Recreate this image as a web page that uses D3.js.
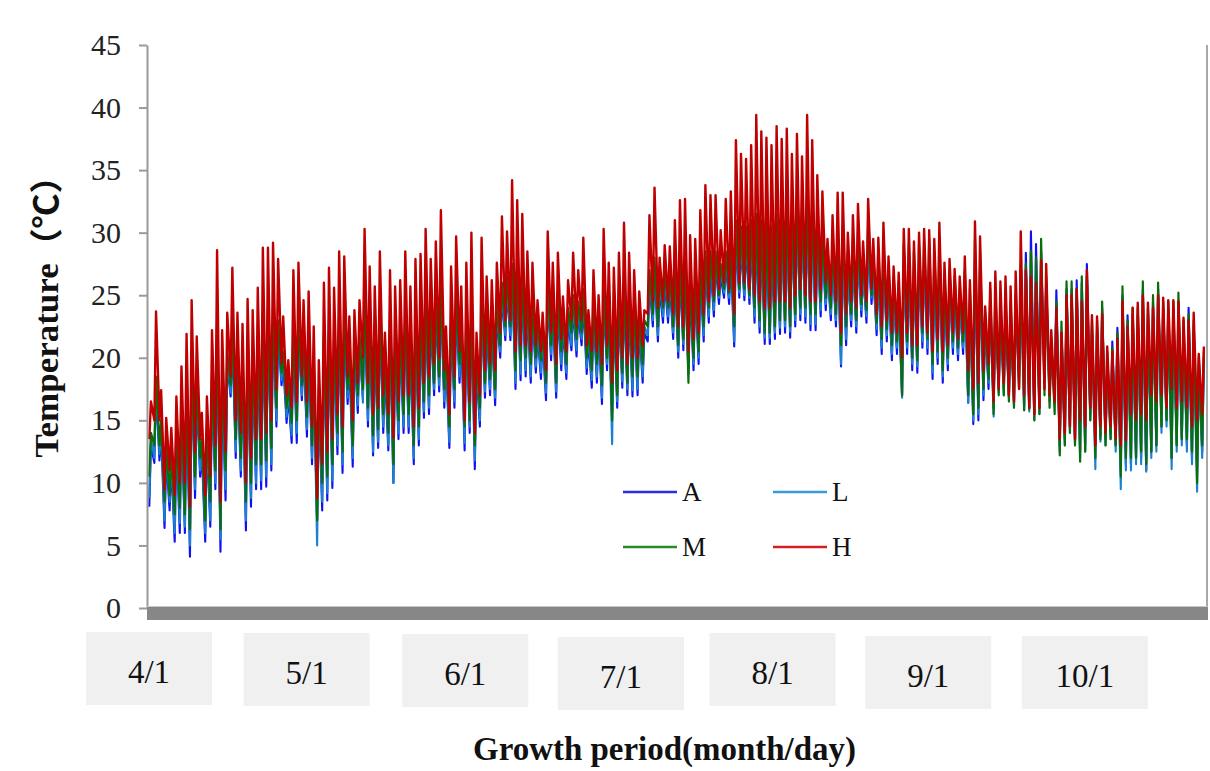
<!DOCTYPE html>
<html><head><meta charset="utf-8">
<script src="https://cdn.jsdelivr.net/npm/d3@7"></script>
<style>body{margin:0;background:#fff}svg{display:block}</style>
</head><body>
<svg id="chart" width="1210" height="771"></svg>
<script>
// ---------------- DATA ----------------
const startDate = "2019-04-01";
const tickDates = ["2019-04-01","2019-05-01","2019-06-01","2019-07-01","2019-08-01","2019-09-01","2019-10-01"];
const tickLabels = ["4/1","5/1","6/1","7/1","8/1","9/1","10/1"];
const yTicks = [0,5,10,15,20,25,30,35,40,45];
const seriesNames = ["A","L","M","H"];

// daily maximum / minimum temperature (°C), 4/1 .. 10/25
const hMax = [16.5,23.7,17.4,15.2,14.4,16.9,19.3,21.9,24.6,21.7,15.6,16.9,22.2,28.6,22.2,23.6,27.2,23.6,22.7,24.7,23.8,25.6,28.8,28.8,29.2,27.9,23.3,19.8,27.0,27.6,24.6,25.3,22.5,19.8,26.0,27.2,25.6,28.5,28.1,23.3,23.8,24.6,
30.3,27.3,25.7,28.5,22.0,27.0,25.7,26.2,28.5,25.7,27.9,28.3,30.3,27.9,29.3,31.8,22.5,27.3,29.7,25.7,27.6,30.0,22.0,29.6,26.5,26.2,27.6,31.3,30.1,34.2,32.6,31.5,28.5,27.6,24.6,23.6,30.1,27.6,28.4,24.9,26.2,
28.4,27.0,29.6,23.8,27.0,25.0,30.3,27.6,27.2,28.4,30.8,28.4,27.0,25.3,23.8,31.4,33.6,28.0,29.0,28.9,31.0,32.6,32.7,29.8,29.5,31.8,33.8,33.0,33.0,30.2,32.7,33.3,37.4,36.3,35.9,37.0,39.4,38.1,37.6,37.0,38.5,
37.5,38.3,36.3,37.9,36.1,39.4,37.4,34.6,33.3,29.5,31.4,33.2,33.2,30.0,31.4,32.3,29.3,32.7,29.5,29.6,30.8,28.1,27.3,26.8,30.3,30.3,29.3,30.0,30.3,30.2,29.5,30.8,27.6,27.9,27.1,26.5,28.1,26.2,30.9,29.7,24.1,26.0,
26.9,26.1,26.5,25.7,26.9,30.1,27.0,26.5,26.0,27.8,27.5,22.2,24.0,22.0,25.0,25.0,25.5,24.5,27.0,23.4,23.3,23.5,20.9,20.5,21.5,24.5,22.5,24.0,24.4,25.0,24.4,24.0,25.0,24.8,24.6,24.6,24.5,23.2,23.0,23.6,20.3,20.9];
const hMin = [13.5,15.0,15.0,9.5,11.0,9.0,10.0,10.0,8.1,12.5,13.5,9.0,10.5,13.0,8.5,12.5,18.5,15.0,14.0,10.0,12.0,13.5,13.5,14.0,15.0,17.5,19.5,17.0,16.0,16.5,18.5,16.5,14.5,8.8,11.5,12.5,13.5,15.5,14.5,18.5,15.0,18.0,
20.0,18.0,15.5,16.0,17.0,15.5,13.6,16.5,17.0,17.0,14.5,16.0,18.0,18.5,19.5,20.0,19.0,15.5,18.5,20.5,15.0,16.5,14.0,17.0,19.0,19.5,19.0,22.0,23.0,23.0,20.5,21.0,21.0,20.5,21.0,20.5,19.0,22.0,19.5,21.5,20.5,
23.0,22.5,23.0,21.0,20.5,20.5,19.5,21.0,18.0,19.0,20.0,19.5,20.0,20.0,21.0,23.5,24.5,24.0,24.5,24.5,23.5,22.5,22.5,20.5,21.5,22.0,23.5,24.5,25.0,25.5,26.0,25.5,23.5,26.0,26.0,25.5,25.0,24.5,24.0,24.0,24.5,
24.5,24.5,24.0,25.0,25.5,25.0,24.5,24.5,25.5,26.0,25.0,24.5,22.0,23.5,24.5,24.0,25.0,24.5,25.5,23.5,22.5,23.0,22.0,22.0,20.0,22.0,21.0,21.0,22.5,22.0,20.5,21.5,20.5,21.0,22.0,21.5,22.0,19.0,17.5,18.0,19.0,19.5,
16.5,17.5,18.0,17.0,16.5,17.5,17.0,16.0,15.5,16.0,17.5,17.0,16.5,13.5,14.0,14.5,13.5,15.0,14.5,16.0,13.0,14.5,14.0,14.5,13.5,13.0,13.4,15.5,15.0,15.5,15.0,17.0,16.5,17.0,16.0,17.5,16.0,16.5,16.0,14.5,15.0,15.5];
const mMax = [14.0,18.5,15.0,13.0,12.5,14.5,16.0,18.0,20.0,18.0,13.5,14.5,18.5,23.0,19.0,20.5,22.5,20.0,19.5,21.0,20.5,21.5,23.5,24.0,24.0,23.0,20.5,18.0,22.5,23.0,21.5,22.0,19.5,17.5,22.0,23.0,22.0,24.0,23.5,21.0,21.5,22.0,
25.0,23.5,22.0,24.0,20.0,23.0,22.0,22.5,24.0,22.0,23.5,24.0,25.0,24.0,25.0,26.0,21.0,23.5,25.0,23.0,24.0,25.0,20.0,25.0,23.5,23.5,24.5,26.0,26.5,27.5,27.0,26.5,25.0,24.5,23.0,22.5,26.0,25.0,25.0,23.5,24.0,
25.0,24.5,25.5,22.5,24.5,23.5,25.5,24.5,24.5,25.0,26.0,25.0,24.5,23.5,23.0,27.0,28.0,26.5,27.0,27.0,27.5,28.0,28.0,26.5,26.5,27.5,28.5,28.5,28.5,27.5,28.5,29.0,31.0,30.5,30.5,31.0,31.5,31.0,31.0,30.5,31.5,
32.0,32.5,31.5,33.0,32.0,33.0,32.5,31.0,30.0,28.0,29.5,30.5,30.5,28.5,29.5,30.0,28.0,31.0,28.5,28.5,29.5,27.0,26.5,26.0,29.0,29.0,28.5,29.0,29.5,29.5,28.5,29.5,26.5,27.0,26.5,25.5,27.0,25.5,29.5,28.5,23.5,25.5,
25.5,25.0,25.0,24.5,25.0,27.5,27.5,28.5,28.0,29.5,26.5,21.5,24.5,22.9,26.1,26.1,25.5,26.5,26.5,23.0,23.0,24.5,20.5,20.8,22.0,25.7,23.0,24.0,24.0,26.1,24.0,25.0,26.0,24.5,24.5,24.5,25.2,23.0,23.5,23.0,20.0,20.5];
const mMin = [10.5,13.0,13.0,8.5,9.0,7.5,8.0,7.5,6.3,10.5,12.0,7.0,8.5,11.0,6.3,11.0,17.8,13.5,12.0,8.5,10.0,11.5,11.5,11.8,12.8,16.0,18.8,16.0,14.8,15.0,17.8,15.3,13.0,7.0,10.0,10.5,11.5,14.0,12.5,17.5,13.0,17.0,
17.5,16.0,13.8,14.3,15.5,14.0,11.5,15.0,15.5,15.5,13.0,14.5,16.5,17.0,18.0,18.5,17.5,14.5,17.5,19.5,14.5,15.0,13.0,16.0,18.0,18.3,17.5,21.0,22.5,22.5,19.0,19.8,20.0,19.5,20.0,19.8,18.0,21.0,18.0,20.5,19.5,
22.0,21.5,22.0,20.0,19.0,19.5,17.8,20.0,15.0,17.0,18.8,18.0,18.5,18.5,19.5,22.5,23.5,22.5,24.0,24.0,22.5,21.0,21.5,18.0,20.0,20.5,22.5,24.0,24.5,25.0,25.5,25.2,22.5,25.5,25.5,25.0,24.0,23.0,22.0,22.0,22.5,
23.0,23.0,22.5,23.5,24.0,24.0,23.5,23.5,24.5,24.8,24.0,23.5,21.0,22.5,23.5,23.0,24.3,23.8,25.0,22.8,21.5,22.3,21.0,21.3,17.0,21.3,20.0,19.8,22.0,21.5,19.5,20.5,19.0,20.0,21.3,20.8,21.3,17.0,15.5,16.0,17.5,18.3,
15.5,17.0,17.0,16.5,16.0,17.5,15.8,15.9,15.0,15.5,17.0,16.0,15.5,12.2,13.0,14.0,13.0,11.7,12.5,15.0,12.0,13.5,13.0,13.5,13.0,10.5,12.0,12.0,12.0,12.5,11.5,12.5,13.0,14.5,15.0,12.0,13.0,13.5,13.5,12.5,10.0,13.0];
const aMax = [13.0,17.5,14.0,12.0,11.5,13.5,15.0,17.0,19.0,17.0,12.5,13.5,17.5,22.0,18.0,19.5,21.5,19.0,18.5,20.0,19.5,20.5,22.5,23.0,23.0,22.0,19.5,17.0,21.5,22.0,20.5,21.0,18.5,16.5,21.0,22.0,21.0,23.0,22.5,20.0,20.5,21.0,
24.0,22.5,21.0,23.0,19.0,22.0,21.0,21.5,23.0,21.0,22.5,23.0,24.0,23.0,24.0,25.0,20.0,22.5,24.0,22.0,23.0,24.0,19.0,24.0,22.5,22.5,23.5,25.0,25.5,26.5,26.0,25.5,24.0,23.5,22.0,21.5,25.0,24.0,24.0,22.5,23.0,
24.0,23.5,24.5,21.5,23.5,22.5,24.5,23.5,23.5,24.0,25.0,24.0,23.5,22.5,22.0,26.0,27.0,25.5,26.0,26.0,26.5,27.0,27.0,25.5,25.5,26.5,27.5,27.5,27.5,26.5,27.5,28.0,29.5,29.0,29.0,29.5,30.0,29.5,29.5,29.0,30.0,
31.0,31.0,30.5,31.5,31.0,31.5,31.0,29.5,29.0,27.0,28.0,29.0,29.0,27.0,28.0,28.5,27.0,29.0,27.0,27.0,28.0,26.0,25.0,25.0,27.5,27.5,27.0,27.5,28.0,28.0,27.0,28.0,25.5,26.0,25.5,24.5,26.0,24.5,28.0,27.5,23.0,24.5,
24.5,24.0,24.0,23.5,25.0,27.0,28.4,30.1,29.1,28.5,26.0,21.0,25.4,22.0,25.5,25.5,26.2,26.0,27.5,22.5,22.5,24.0,20.0,21.3,22.4,25.0,23.4,23.5,23.5,25.5,23.5,24.5,25.5,24.0,24.0,24.0,24.5,22.5,24.0,22.5,19.5,20.0];
const aMin = [8.1,11.6,11.8,6.4,7.8,5.3,6.0,6.0,4.1,8.8,10.5,5.3,6.5,9.5,4.5,8.6,16.9,12.0,10.5,6.2,8.1,9.5,9.5,9.7,11.0,14.5,17.8,14.8,13.2,13.2,16.6,13.7,11.5,7.0,7.8,8.6,9.6,12.3,10.8,16.3,11.3,15.6,
16.8,14.5,12.2,12.8,14.0,12.6,10.0,13.5,14.0,14.0,11.5,13.0,15.2,15.5,17.0,17.3,16.0,12.8,16.0,18.0,12.6,14.0,11.1,14.5,16.8,17.0,16.2,20.0,21.4,21.4,17.5,18.2,18.5,18.0,18.8,18.3,16.6,19.8,16.8,19.0,18.3,
20.6,20.1,21.0,18.7,17.6,18.0,16.3,19.0,15.5,16.0,17.6,17.0,16.9,17.0,18.0,21.3,22.5,21.3,22.8,22.8,21.5,20.0,20.6,18.7,19.0,19.5,21.3,22.8,23.3,24.3,24.8,24.3,20.9,24.8,24.6,24.3,22.8,22.0,21.1,21.1,21.5,
21.9,22.0,21.6,22.5,23.0,22.8,22.2,22.2,23.3,23.8,23.0,22.5,19.3,21.0,22.5,22.0,23.3,22.8,24.3,21.8,20.3,21.3,19.8,20.3,17.0,20.3,19.0,18.8,20.8,20.3,18.3,19.5,18.0,19.0,20.3,19.8,20.3,16.4,14.7,15.0,16.6,17.5,
16.0,17.5,17.5,17.0,16.6,18.5,16.2,16.0,15.5,16.0,18.5,17.0,16.8,13.0,13.5,14.5,13.5,12.5,13.0,15.5,13.0,13.8,13.5,14.0,13.0,11.0,11.5,11.5,12.0,12.0,11.0,12.5,13.0,14.5,15.0,12.0,13.0,13.5,13.0,12.0,11.0,12.5];
const lMax = [13.5,18.0,14.5,12.5,12.0,14.0,15.5,17.5,19.5,17.5,13.0,14.0,18.0,22.5,18.5,20.0,22.0,19.5,19.0,20.5,20.0,21.0,23.0,23.5,23.5,22.5,20.0,17.5,22.0,22.5,21.0,21.5,19.0,17.0,21.5,22.5,21.5,23.5,23.0,20.5,21.0,21.5,
24.5,23.0,21.5,23.5,19.5,22.5,21.5,22.0,23.5,21.5,23.0,23.5,24.5,23.5,24.5,25.5,20.5,23.0,24.5,22.5,23.5,24.5,19.5,24.5,23.0,23.0,24.0,25.5,26.0,27.0,26.5,26.0,24.5,24.0,22.5,22.0,25.5,24.5,24.5,23.0,23.5,
24.5,24.0,25.0,22.0,24.0,23.0,25.0,24.0,24.0,24.5,25.5,24.5,24.0,23.0,22.5,26.5,27.5,26.0,26.5,26.5,27.0,27.5,27.5,26.0,26.0,27.0,28.0,28.0,28.0,27.0,28.0,28.5,30.0,29.5,29.5,30.0,30.5,30.0,30.0,29.5,30.5,
30.5,30.5,30.0,31.0,30.5,31.0,30.5,29.0,28.5,26.5,27.5,28.5,28.5,26.5,27.5,28.0,26.5,28.5,26.5,26.5,27.5,25.5,24.5,24.5,27.0,27.0,26.5,27.0,27.5,27.5,26.5,27.5,25.0,25.5,25.0,24.0,25.5,24.0,27.5,27.0,22.5,24.0,
24.0,23.5,23.5,23.0,24.0,26.0,27.0,28.5,28.0,27.5,25.0,20.5,24.5,21.5,25.0,25.0,25.5,25.5,26.5,22.0,22.0,23.5,19.5,20.5,21.5,24.5,22.5,23.0,23.0,25.0,23.0,24.0,25.0,23.5,23.5,23.5,24.0,22.0,23.0,22.0,19.0,19.5];
const lMin = [8.8,12.0,12.3,7.0,8.5,6.0,6.8,6.5,5.0,9.5,11.0,6.0,7.0,10.0,5.5,9.5,17.2,12.5,11.0,7.0,8.8,10.0,10.2,10.5,11.5,15.0,18.2,15.3,13.8,14.0,17.0,14.3,12.0,5.0,8.5,9.2,10.2,13.0,11.5,16.8,12.0,16.2,
16.4,15.0,12.5,13.3,14.5,13.0,10.0,14.0,14.5,14.5,12.0,13.5,15.7,16.0,17.5,17.8,16.5,13.3,16.5,18.5,13.2,14.5,11.8,15.0,17.3,17.5,16.8,20.5,21.8,21.8,18.0,18.7,19.0,18.5,19.3,18.8,17.2,20.3,17.3,19.5,18.8,
21.0,20.6,21.5,19.2,18.2,18.5,16.8,19.5,13.1,16.5,18.1,17.5,17.4,17.5,18.5,21.8,23.0,21.8,23.3,23.3,22.0,20.5,21.1,19.2,19.5,20.0,21.8,23.3,23.8,24.8,25.2,24.8,21.3,25.2,25.0,24.8,23.3,22.5,21.6,21.6,22.0,
22.4,22.5,22.1,23.0,23.5,23.3,22.7,22.7,23.8,24.3,23.5,23.0,19.5,21.5,23.0,22.5,23.8,23.3,24.8,22.3,20.8,21.8,20.3,20.8,16.8,20.8,19.5,19.3,21.3,20.8,18.8,20.0,18.5,19.5,20.8,20.3,20.8,16.4,15.0,15.5,17.0,18.0,
15.3,17.2,17.0,16.8,16.2,18.0,15.8,15.7,15.0,15.5,18.0,16.5,16.3,12.5,13.0,14.0,13.0,12.0,12.5,15.0,11.1,13.3,13.0,13.5,12.5,9.5,11.0,11.0,11.5,11.5,10.9,12.0,12.5,14.0,14.5,11.1,12.5,13.0,12.5,11.5,9.3,12.0];

// ---------------- LAYOUT / STYLE ----------------
const colors = {A:"#1010f5", L:"#1a80d0", M:"#0a6e0a", H:"#c00000"};
const strokeW = {A:2.1, L:2.1, M:2.2, H:2.4};
const legendColors = {A:"#2a2af0", L:"#3a9ad8", M:"#2a8a2a", H:"#d02020"};
const labelNudge = [1,6,7,10,4,2,6];
const boxTop = [632,633,634,637,633,636,636];
const serif = "'Liberation Serif','Times New Roman',serif";

const svg = d3.select("#chart");
const parse = d3.timeParse("%Y-%m-%d");
const t0 = parse(startDate);
const nDays = hMax.length;

const x = d3.scaleLinear().domain([0, nDays]).range([148, 1206]);
const y = d3.scaleLinear().domain([0, 45]).range([608, 45]);

svg.append("rect").attr("width",1210).attr("height",771).attr("fill","#fff");

svg.append("defs").append("clipPath").attr("id","clip")
  .append("rect").attr("x",148).attr("y",40).attr("width",1059).attr("height",568);

// series
const seriesData = {
  A: {max:aMax, min:aMin},
  L: {max:lMax, min:lMin},
  M: {max:mMax, min:mMin},
  H: {max:hMax, min:hMin}
};
const line = d3.line().x(d => x(d.t)).y(d => y(d.v));
const gData = svg.append("g").attr("clip-path","url(#clip)");
seriesNames.forEach(name => {
  const s = seriesData[name];
  const pts = [];
  for (let i = 0; i < s.max.length; i++) {
    pts.push({t: i + 0.25, v: s.min[i]});
    pts.push({t: i + 0.58, v: s.max[i]});
  }
  gData.append("path").datum(pts)
    .attr("d", line)
    .attr("fill","none")
    .attr("stroke", colors[name])
    .attr("stroke-width", strokeW[name])
    .attr("stroke-linejoin","round");
});

// y axis
const yAxis = d3.axisLeft(y).tickValues(yTicks).tickSize(8).tickSizeOuter(0).tickPadding(18);
const gy = svg.append("g").attr("transform","translate(147,0)").call(yAxis);
gy.select(".domain").attr("stroke","#9a9a9a").attr("stroke-width",2);
gy.selectAll(".tick line").attr("stroke","#9a9a9a").attr("stroke-width",2);
gy.selectAll(".tick text").attr("font-family",serif).attr("font-size",30).attr("fill","#222");

// right border
svg.append("line").attr("x1",1207).attr("x2",1207).attr("y1",45).attr("y2",620)
  .attr("stroke","#a8a8a8").attr("stroke-width",2);

// bottom band (category axis)
svg.append("rect").attr("x",147).attr("y",607).attr("width",1061).attr("height",13).attr("fill","#878787");
svg.append("line").attr("x1",147).attr("x2",1208).attr("y1",606.5).attr("y2",606.5).attr("stroke","#c8c8c8").attr("stroke-width",1);

// x tick label boxes
const tickDays = tickDates.map(d => d3.timeDay.count(t0, parse(d)));
tickLabels.forEach((lab, i) => {
  const cx = x(tickDays[i]) + labelNudge[i];
  svg.append("rect").attr("x", cx - 63).attr("y", boxTop[i]).attr("width",126).attr("height",73).attr("fill","#f0f0f0");
  svg.append("text").attr("x", cx).attr("y", boxTop[i] + 51)
    .attr("text-anchor","middle").attr("font-family",serif).attr("font-size",33).attr("fill","#111")
    .text(lab);
});

// axis titles
svg.append("text").attr("x",473).attr("y",760)
  .attr("font-family",serif).attr("font-size",33).attr("font-weight","bold").attr("fill","#111")
  .attr("textLength",383).attr("lengthAdjust","spacingAndGlyphs")
  .text("Growth  period(month/day)");
svg.append("text").attr("transform","translate(58,308) rotate(-90)")
  .attr("text-anchor","middle")
  .attr("font-family",serif + ",'Noto Sans CJK SC'").attr("font-size",33).attr("font-weight","bold").attr("fill","#111")
  .attr("textLength",299).attr("lengthAdjust","spacingAndGlyphs")
  .text("Temperature（℃）");

// legend
const legendPos = {A:[623,492], L:[773,492], M:[623,547], H:[773,547]};
seriesNames.forEach(name => {
  const [lx, ly] = legendPos[name];
  svg.append("line").attr("x1",lx).attr("x2",lx+54).attr("y1",ly).attr("y2",ly)
    .attr("stroke",legendColors[name]).attr("stroke-width",2.5);
  svg.append("text").attr("x",lx+59).attr("y",ly+9)
    .attr("font-family",serif).attr("font-size",27).attr("fill","#111").text(name);
});
</script>
</body></html>
